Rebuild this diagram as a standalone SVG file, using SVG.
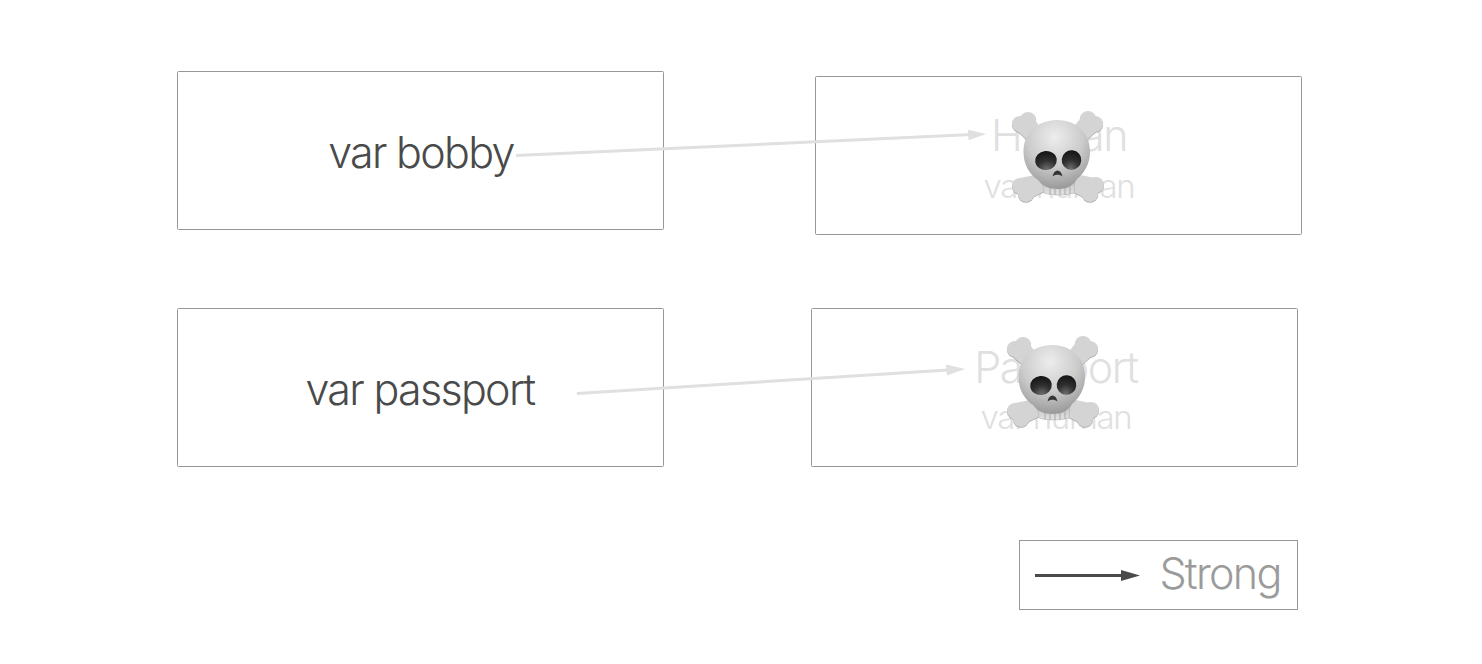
<svg xmlns="http://www.w3.org/2000/svg" width="1482" height="664" viewBox="0 0 1482 664">
<style>
.box{fill:#fff;stroke:#979797;stroke-width:1}
text{font-family:"Inter","Liberation Sans",sans-serif;font-weight:350;text-anchor:middle}
.main{font-size:43px;fill:#4a4a4a;letter-spacing:-1.7px}
.dead{font-size:43px;fill:#e0e0e0;letter-spacing:-1.5px}
.sub{font-size:33px;fill:#e0e0e0;letter-spacing:-1.3px}
.leg{font-size:43px;fill:#9b9b9b;letter-spacing:-1.7px}
.ref{stroke:#e0e0e0;stroke-width:3;fill:none}
.str{stroke:#4a4a4a;stroke-width:3;fill:none}
.hd-l{fill:#e0e0e0}
.hd-d{fill:#4a4a4a}
</style>
<defs>
<radialGradient id="sk" cx=".47" cy=".25" r=".85"><stop offset="0" stop-color="#ededed"/><stop offset=".5" stop-color="#cbcbcb"/><stop offset="1" stop-color="#8a8a8a"/></radialGradient>
<radialGradient id="eye" cx=".5" cy=".95" r=".9"><stop offset="0" stop-color="#6e6e6e"/><stop offset=".5" stop-color="#303030"/><stop offset="1" stop-color="#161616"/></radialGradient>
<linearGradient id="jaw" x1="0" y1="0" x2="0" y2="1"><stop offset="0" stop-color="#bdbdbd"/><stop offset="1" stop-color="#e4e4e4"/></linearGradient>
<g id="bone-shapes">
<path d="M-42-28L-26-42L-12-24L-24-12Z"/><circle cx="-37" cy="-33" r="8"/><circle cx="-29" cy="-37" r="8"/>
<path d="M42-28L26-42L12-24L24-12Z"/><circle cx="38" cy="-33" r="8"/><circle cx="31" cy="-38" r="8"/>
<path d="M-12 16L-37 21L-40 36L-28 42L-8 32Z"/><circle cx="-37" cy="29" r="8"/><circle cx="-31" cy="37" r="8"/>
<path d="M14 16L38 21L42 35L30 42L10 32Z"/><circle cx="39" cy="28" r="8"/><circle cx="33" cy="37" r="8"/>
</g>
<g id="skull">
<use href="#bone-shapes" fill="#a2a2a2" y=".8"/>
<use href="#bone-shapes" fill="#d4d4d4"/>
<path d="M-15 22L-13 36C-6 38.500 9 38.500 17 36L18 22Z" fill="url(#jaw)" stroke="#b0b0b0" stroke-width=".6"/>
<path d="M-7 30V37.500M-2 30V38M3 30V38M8 30V38M13 30V37" stroke="#a8a8a8" stroke-width="1" fill="none"/>
<path d="M0-37C21-37 33.500-22 33-5C33 8 26 17 20 22C16 29 10 32 1 32C-8 32-15 29-19 23C-27 18-33.500 8-33.500-5C-33.500-23-20-37 0-37Z" fill="url(#sk)"/>
<ellipse cx="-11" cy="3.500" rx="10.800" ry="9.500" fill="url(#eye)" transform="rotate(-6 -11 3.500)"/>
<ellipse cx="14.500" cy="3" rx="9.800" ry="9.800" fill="url(#eye)" transform="rotate(6 14.500 3)"/>
<path d="M-4.500 19.500C-3 11.500 4 11.500 5.500 19.500C3 17-2 17-4.500 19.500Z" fill="#333"/>
</g>
</defs>
<g id="node-bobby"><rect class="box" x="177.500" y="71.500" width="486" height="158" rx="1"/><text class="main" x="421" y="168">var bobby</text></g>
<g id="node-human"><rect class="box" x="815.500" y="76.500" width="486" height="158" rx="1"/><text class="dead" x="1059" y="151">Human</text><text class="sub" x="1059" y="198">var human</text><use href="#skull" x="1057" y="157"/></g>
<g id="node-passport"><rect class="box" x="177.500" y="308.500" width="486" height="158" rx="1"/><text class="main" x="420" y="405">var passport</text></g>
<g id="node-passport-object"><rect class="box" x="811.500" y="308.500" width="486" height="158" rx="1"/><text class="dead" x="1056" y="383">Passport</text><text class="sub" x="1056" y="429">var human</text><use href="#skull" x="1052" y="382"/></g>
<g id="legend"><rect class="box" x="1019.500" y="540.500" width="278" height="69"/><line class="str" x1="1035" y1="575.500" x2="1126" y2="575.500"/><path class="hd-d" d="M1121 570L1140 575.500L1121 581Z"/><text class="leg" x="1220" y="589">Strong</text></g>
<g id="connectors">
<line class="ref" x1="516" y1="155.500" x2="972" y2="134.600"/><path class="hd-l" d="M968 129.800L986 134L968.500 140.300Z"/>
<line class="ref" x1="577" y1="393.500" x2="952" y2="369.800"/><path class="hd-l" d="M946 364.500L965 369L947 375.500Z"/>
</g>
</svg>
